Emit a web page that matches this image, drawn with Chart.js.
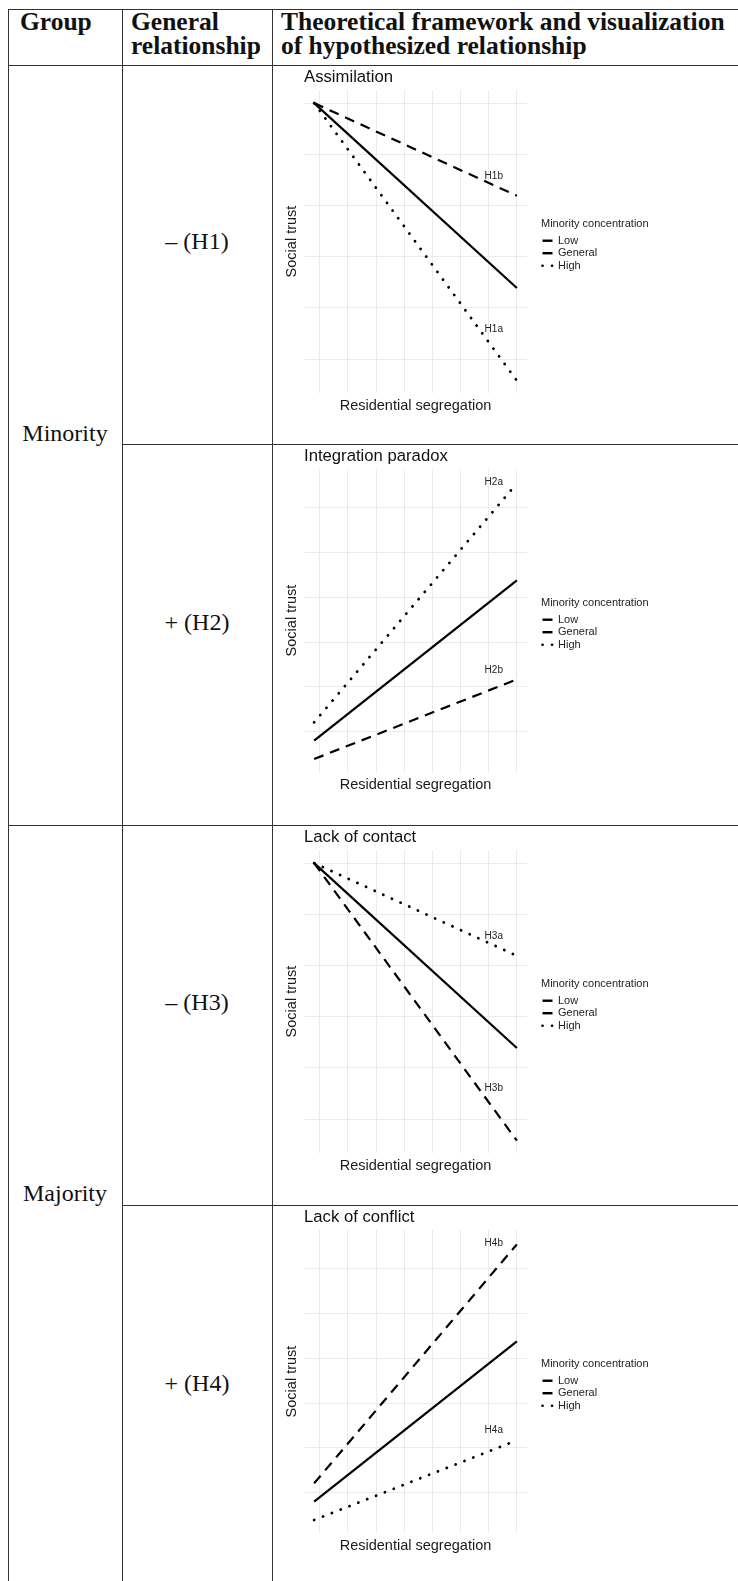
<!DOCTYPE html>
<html><head><meta charset="utf-8">
<script src="https://cdn.jsdelivr.net/npm/chart.js@4.4.0/dist/chart.umd.min.js"></script>
<style>
html,body{margin:0;padding:0;background:#fff;}
body{width:738px;height:1581px;overflow:hidden;position:relative;font-family:"Liberation Serif","Times New Roman",serif;color:#111;}
.ln{position:absolute;background:#333;}
.h{position:absolute;font-weight:bold;font-size:25.5px;line-height:24px;white-space:nowrap;}
.c{position:absolute;font-size:24px;line-height:28px;text-align:center;white-space:nowrap;}
.pan{position:absolute;left:273px;width:465px;height:377px;}
canvas{display:block;}
</style></head><body>
<!-- table rules -->
<div class="ln" style="left:8px;top:9px;width:730px;height:1px"></div>
<div class="ln" style="left:8px;top:65px;width:730px;height:1px"></div>
<div class="ln" style="left:122px;top:444px;width:616px;height:1px"></div>
<div class="ln" style="left:8px;top:825px;width:730px;height:1px"></div>
<div class="ln" style="left:122px;top:1205px;width:616px;height:1px"></div>
<div class="ln" style="left:8px;top:9px;width:1px;height:1572px"></div>
<div class="ln" style="left:122px;top:9px;width:1px;height:1572px"></div>
<div class="ln" style="left:272px;top:9px;width:1px;height:1572px"></div>
<!-- header -->
<div class="h" style="left:20px;top:10px">Group</div>
<div class="h" style="left:131px;top:10px">General<br>relationship</div>
<div class="h" style="left:281px;top:10px">Theoretical framework and visualization<br>of hypothesized relationship</div>
<!-- row texts -->
<div class="c" style="left:8px;width:114px;top:419px">Minority</div>
<div class="c" style="left:8px;width:114px;top:1179px">Majority</div>
<div class="c" style="left:122px;width:150px;top:227px">– (H1)</div>
<div class="c" style="left:122px;width:150px;top:608px">+ (H2)</div>
<div class="c" style="left:122px;width:150px;top:988px">– (H3)</div>
<div class="c" style="left:122px;width:150px;top:1369px">+ (H4)</div>
<!-- chart panels -->
<div class="pan" style="top:66px"><canvas id="c1" width="465" height="377"></canvas></div>
<div class="pan" style="top:445px"><canvas id="c2" width="465" height="377"></canvas></div>
<div class="pan" style="top:826px"><canvas id="c3" width="465" height="377"></canvas></div>
<div class="pan" style="top:1206px"><canvas id="c4" width="465" height="377"></canvas></div>
<script>
// ---- data ----
const xSeg = [0.8, 8];                 // residential segregation: start, end
const xGrid = [1, 2, 3, 4, 5, 6, 7, 8];
const yGrid = [0, 1, 2, 3, 4, 5];
const concentration = ['Low', 'General', 'High'];
const panelTitles = ['Assimilation', 'Integration paradox', 'Lack of contact', 'Lack of conflict'];

// social trust at start / end of the segregation range
const trustLow1 = [5.0, 3.19];
const trustGen1 = [5.0, 1.39];
const trustHigh1 = [5.0, -0.42];
const trustLow2 = [-0.61, 1.17];
const trustGen2 = [-0.20, 3.38];
const trustHigh2 = [0.21, 5.55];
const trustLow3 = [5.0, -0.42];
const trustGen3 = [5.0, 1.39];
const trustHigh3 = [5.0, 3.19];
const trustLow4 = [0.21, 5.55];
const trustGen4 = [-0.20, 3.38];
const trustHigh4 = [-0.61, 1.17];

const yRangeNeg = [-0.66, 5.255];
const yRangePos = [-0.90, 5.87];
const xRange = [0.44, 8.36];

// hypothesis labels
const hypText1 = ['H1b', 'H1a'], hypY1 = [3.58, 0.58];
const hypText2 = ['H2a', 'H2b'], hypY2 = [5.58, 1.38];
const hypText3 = ['H3a', 'H3b'], hypY3 = [3.58, 0.60];
const hypText4 = ['H4b', 'H4a'], hypY4 = [5.57, 1.39];
const hypX = 7.18;

// ---- chart ----
Chart.defaults.font.family = '"Liberation Sans", Arial, sans-serif';
Chart.defaults.color = '#1a1a1a';

const lineStyles = [
  {borderWidth: 2.2, borderDash: [10, 7], borderCapStyle: 'butt'},
  {borderWidth: 2.2, borderDash: [], borderCapStyle: 'butt'},
  {borderWidth: 2.8, borderDash: [0.1, 9.4], borderCapStyle: 'round'}
];
const keyStyles = [
  {lineWidth: 2.4, lineDash: [], lineCap: 'butt'},
  {lineWidth: 2.4, lineDash: [], lineCap: 'butt'},
  {lineWidth: 2.6, lineDash: [0.1, 9.4], lineCap: 'round'}
];

const hypLabelPlugin = {
  id: 'hypLabels',
  afterDatasetsDraw(chart, args, opts) {
    const {ctx} = chart;
    const xs = chart.scales.x, ys = chart.scales.y;
    ctx.save();
    ctx.font = '10px "Liberation Sans", Arial, sans-serif';
    ctx.fillStyle = '#222';
    ctx.textAlign = 'center';
    ctx.textBaseline = 'middle';
    opts.text.forEach((t, i) => ctx.fillText(t, xs.getPixelForValue(opts.x), ys.getPixelForValue(opts.y[i])));
    ctx.restore();
  }
};

// give the legend box room for its (long) title
const legendWidthPlugin = {
  id: 'legendWidth',
  beforeLayout(chart, args, opts) {
    const lg = chart.legend;
    if (lg && !lg.__wide) {
      const orig = lg.fit;
      lg.fit = function () { orig.call(this); this.width = opts.width; };
      lg.__wide = true;
    }
  }
};

function makeChart(id, title, series, yRange, hypText, hypY) {
  const datasets = series.map((vals, i) => Object.assign({
    label: concentration[i],
    data: xSeg.map((x, k) => ({x: x, y: vals[k]})),
    borderColor: '#000',
    backgroundColor: '#000',
    pointRadius: 0,
    pointHoverRadius: 0,
    fill: false,
    tension: 0
  }, lineStyles[i]));
  new Chart(document.getElementById(id), {
    type: 'line',
    data: {datasets},
    plugins: [hypLabelPlugin, legendWidthPlugin],
    options: {
      responsive: false,
      animation: false,
      devicePixelRatio: 1,
      layout: {padding: {left: 0, right: 77, top: 0, bottom: 28.6}},
      scales: {
        x: {
          type: 'linear', min: xRange[0], max: xRange[1],
          afterBuildTicks: s => { s.ticks = xGrid.map(v => ({value: v})); },
          grid: {color: '#ebebeb', lineWidth: 1, drawTicks: false},
          border: {display: false},
          ticks: {display: false},
          title: {display: true, text: 'Residential segregation', font: {size: 14.5}, color: '#1a1a1a', padding: {top: 4, bottom: 0}}
        },
        y: {
          type: 'linear', min: yRange[0], max: yRange[1],
          afterBuildTicks: s => { s.ticks = yGrid.map(v => ({value: v})); },
          grid: {color: '#ebebeb', lineWidth: 1, drawTicks: false},
          border: {display: false},
          ticks: {display: false},
          title: {display: true, text: 'Social trust', font: {size: 14.5}, color: '#1a1a1a', padding: {top: 10.3, bottom: 3.3}}
        },
        yR: {
          type: 'linear', position: 'right', display: true,
          grid: {display: false}, border: {display: false}, ticks: {display: false},
          afterFit: s => { s.width = 14; }
        }
      },
      plugins: {
        title: {display: true, text: title, align: 'start', fullSize: false, font: {size: 16.7, weight: 'normal'}, color: '#111', padding: {top: 1.2, bottom: 2.8}},
        legend: {
          display: true, position: 'right', align: 'center', fullSize: false,
          title: {display: true, text: 'Minority concentration', position: 'start', font: {size: 11}, color: '#222', padding: {top: 7.9, bottom: 2.3}},
          labels: {
            usePointStyle: true, pointStyleWidth: 10, padding: 1.5, font: {size: 11}, color: '#222',
            generateLabels: chart => chart.data.datasets.map((ds, i) => Object.assign({
              text: ds.label, datasetIndex: i, pointStyle: 'line', strokeStyle: '#000', fillStyle: '#000', hidden: false, fontColor: '#222'
            }, keyStyles[i]))
          }
        },
        legendWidth: {width: 120},
        tooltip: {enabled: false},
        hypLabels: {text: hypText, y: hypY, x: hypX}
      }
    }
  });
}

makeChart('c1', panelTitles[0], [trustLow1, trustGen1, trustHigh1], yRangeNeg, hypText1, hypY1);
makeChart('c2', panelTitles[1], [trustLow2, trustGen2, trustHigh2], yRangePos, hypText2, hypY2);
makeChart('c3', panelTitles[2], [trustLow3, trustGen3, trustHigh3], yRangeNeg, hypText3, hypY3);
makeChart('c4', panelTitles[3], [trustLow4, trustGen4, trustHigh4], yRangePos, hypText4, hypY4);
</script>
</body></html>
